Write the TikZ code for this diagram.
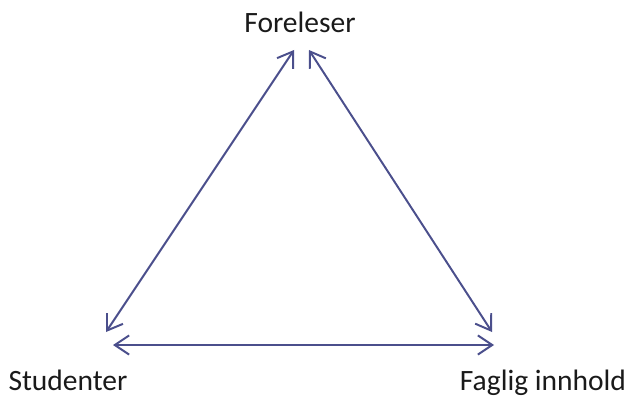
\documentclass[tikz,border=0pt]{standalone}
\usepackage{fontspec}
\setmainfont{Carlito}
\usepackage{tikz}
\usetikzlibrary{arrows.meta}
\definecolor{linkblue}{HTML}{4B4F8C}
\definecolor{ink}{HTML}{1A1A1A}
\tikzset{
  label/.style={font=\fontsize{21}{24}\selectfont, text=ink, anchor=base, inner sep=0pt},
  link/.style={{Straight Barb[length=3.6mm, width=4.8mm, line width=1.4pt]}-{Straight Barb[length=3.6mm, width=4.8mm, line width=1.4pt]}, line width=1.4pt, draw=linkblue},
}
\begin{document}
\begin{tikzpicture}
  \useasboundingbox (0,0) rectangle (15.7,9.95);
  % the three corners of the triangle
  \node[label] (foreleser) at (7.5,9.125) {Foreleser};
  \node[label] (studenter) at (1.7,0.18) {Studenter};
  \node[label] (faglig) at (13.575,0.18) {Faglig innhold};
  % arrow ends
  \coordinate (topleft) at (7.35,8.7);
  \coordinate (topright) at (7.725,8.7);
  \coordinate (lefttip) at (2.65,1.65);
  \coordinate (righttip) at (12.3,1.65);
  \coordinate (baseleft) at (2.825,1.325);
  \coordinate (baseright) at (12.35,1.325);
  \draw[link] (topleft) -- (lefttip);
  \draw[link] (topright) -- (righttip);
  \draw[link] (baseleft) -- (baseright);
\end{tikzpicture}
\end{document}
